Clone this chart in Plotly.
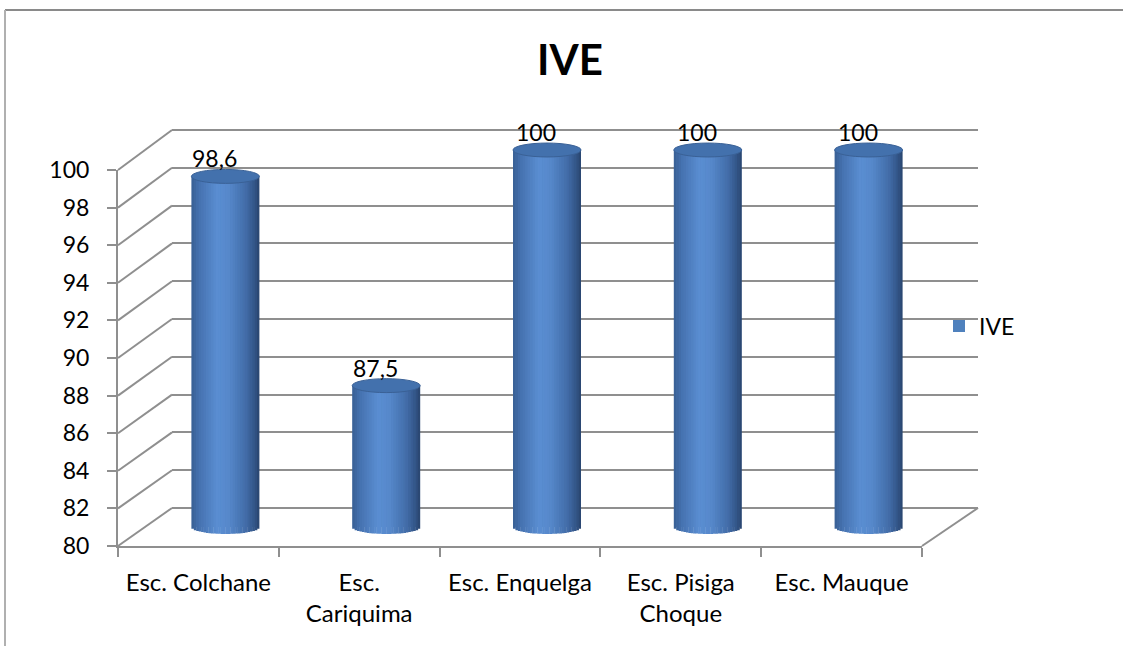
import math
import plotly.graph_objects as go

# ---------------- data ----------------
categories = ["Esc. Colchane", "Esc.<br>Cariquima", "Esc. Enquelga", "Esc. Pisiga<br>Choque", "Esc. Mauque"]
ive_values = [98.6, 87.5, 100, 100, 100]
series_name = "IVE"
y_ticks = [80, 82, 84, 86, 88, 90, 92, 94, 96, 98, 100]
chart_title = "IVE"

# ---------------- geometry (pixels of the 1123x646 page) ----------------
W, H = 1123, 646
FONT = "Lato"
GRID = "#8f8f8f"


def fx(p):
    return p / W


def fy(p):
    return 1 - p / H


Y0, Y1 = 80, 100
# back wall
XB0, XB1, YB0, YB1 = 172, 978, 508, 130
SB = (YB0 - YB1) / (Y1 - Y0)
# front axes
XF0, XF1, YF0, YF1 = 118, 922, 546, 170
SF = (YF0 - YF1) / (Y1 - Y0)
# mid depth (cylinders)
XM0, XM1, YM0 = 145, 949, 527
SM = (SF + SB) / 2
MID_LO, MID_HI = 78.5, 102


def front_y(v):
    return YF0 - (v - Y0) * SF


def back_y(v):
    return YB0 - (v - Y0) * SB


eps = 0.06

fig = go.Figure()

# subplot 1: back wall (gridlines)
fig.add_trace(go.Scatter(x=[None], y=[None], xaxis="x", yaxis="y", showlegend=False, hoverinfo="skip"))

# subplot 2: cylinders
cyl_w = 68 / ((XM1 - XM0) / len(categories))  # in category units
half_h = 0.37  # ellipse half height in value units

# legend / base bar
fig.add_trace(go.Bar(
    x=categories, y=[v - Y0 for v in ive_values], base=Y0,
    width=cyl_w * 0.98, marker=dict(color="#4F81BD", line=dict(width=0)),
    name=series_name, showlegend=True, xaxis="x2", yaxis="y2", hoverinfo="skip",
))

stops = [
    (0.0, (56, 95, 148)),
    (0.12, (70, 114, 176)),
    (0.38, (90, 142, 210)),
    (0.55, (86, 136, 203)),
    (0.8, (66, 108, 168)),
    (0.93, (50, 84, 134)),
    (1.0, (40, 68, 108)),
]


def grad(t):
    for (t0, c0), (t1, c1) in zip(stops[:-1], stops[1:]):
        if t0 <= t <= t1:
            f = (t - t0) / (t1 - t0)
            return "rgb(%d,%d,%d)" % tuple(round(a + (b - a) * f) for a, b in zip(c0, c1))
    return "rgb(%d,%d,%d)" % stops[-1][1]


N = 28
sw = cyl_w / N
for i in range(N):
    off = -cyl_w / 2 + i * sw
    tc = (off + sw / 2) / (cyl_w / 2)
    b = Y0 - half_h * math.sqrt(max(0.0, 1 - tc * tc))
    fig.add_trace(go.Bar(
        x=categories, y=[v - b for v in ive_values], base=b,
        width=sw * (1.15 if i < N - 1 else 1.0), offset=off,
        marker=dict(color=grad((i + 0.5) / N), line=dict(width=0)),
        showlegend=False, xaxis="x2", yaxis="y2", hoverinfo="skip",
    ))

# subplot 3: front axes
fig.add_trace(go.Scatter(x=categories, y=[None] * len(categories), xaxis="x3", yaxis="y3",
                         showlegend=False, hoverinfo="skip"))

shapes = []
# top ellipses of cylinders
for i, v in enumerate(ive_values):
    shapes.append(dict(type="circle", xref="x2", yref="y2",
                       x0=i - cyl_w / 2, x1=i + cyl_w / 2, y0=v - half_h, y1=v + half_h,
                       fillcolor="#4371AD", line=dict(color="#3A6196", width=1), layer="above"))

# diagonal side-wall lines
for v in y_ticks:
    shapes.append(dict(type="line", xref="paper", yref="paper",
                       x0=fx(XF0), y0=fy(front_y(v)), x1=fx(XB0), y1=fy(back_y(v)),
                       line=dict(color=GRID, width=2), layer="below"))
# floor right edge
shapes.append(dict(type="line", xref="paper", yref="paper",
                   x0=fx(XF1), y0=fy(front_y(Y0)), x1=fx(XB1), y1=fy(back_y(Y0)),
                   line=dict(color=GRID, width=2), layer="below"))
# chart border
shapes.append(dict(type="line", xref="paper", yref="paper", x0=fx(5), y0=fy(10), x1=1, y1=fy(10),
                   line=dict(color="#8a8a8a", width=2)))
shapes.append(dict(type="line", xref="paper", yref="paper", x0=fx(5), y0=fy(10), x1=fx(5), y1=0,
                   line=dict(color="#b0b0b0", width=2)))

annotations = []
for i, v in enumerate(ive_values):
    annotations.append(dict(xref="x2", yref="y", x=i, y=v, xshift=-11, yshift=-2,
                            text=f"{v:g}".replace(".", ","), showarrow=False,
                            font=dict(family=FONT, size=23, color="black"),
                            xanchor="center", yanchor="middle"))

fig.update_layout(
    width=W, height=H,
    margin=dict(l=0, r=0, t=0, b=0, pad=0, autoexpand=False),
    paper_bgcolor="white", plot_bgcolor="rgba(0,0,0,0)",
    barmode="overlay",
    title=dict(text=chart_title, x=fx(570), xanchor="center", y=fy(60), yanchor="middle",
               automargin=False,
               font=dict(family=FONT, size=42, color="black", weight="bold")),
    showlegend=True,
    legend=dict(x=fx(939), y=fy(326), xanchor="left", yanchor="middle",
                font=dict(family=FONT, size=23, color="black"), bgcolor="rgba(0,0,0,0)"),
    shapes=shapes, annotations=annotations,
    # back wall
    xaxis=dict(domain=[fx(XB0), fx(XB1)], range=[0, 1], showgrid=False, zeroline=False,
               showticklabels=False, ticks="", showline=False, anchor="y", fixedrange=True,
               automargin=False),
    yaxis=dict(domain=[fy(back_y(Y0 - eps)), fy(back_y(Y1 + eps))], range=[Y0 - eps, Y1 + eps],
               tickvals=y_ticks, showgrid=True, gridcolor=GRID, gridwidth=2, zeroline=False,
               showticklabels=False, ticks="", showline=False, anchor="x", fixedrange=True,
               automargin=False),
    # cylinders
    xaxis2=dict(domain=[fx(XM0), fx(XM1)], type="category", categoryarray=categories,
                range=[-0.5, len(categories) - 0.5], visible=False, anchor="y2", fixedrange=True,
                automargin=False),
    yaxis2=dict(domain=[fy(YM0 + (Y0 - MID_LO) * SM), fy(YM0 - (MID_HI - Y0) * SM)],
                range=[MID_LO, MID_HI], visible=False, anchor="x2", fixedrange=True,
                automargin=False),
    # front axes
    xaxis3=dict(domain=[fx(XF0), fx(XF1)], type="category", categoryarray=categories,
                range=[-0.5, len(categories) - 0.5], tickson="boundaries",
                ticks="outside", ticklen=9, tickwidth=2, tickcolor=GRID,
                showline=True, linecolor=GRID, linewidth=2, showgrid=False, zeroline=False,
                tickfont=dict(family=FONT, size=24, color="black"), ticklabelstandoff=14,
                anchor="y3", fixedrange=True, automargin=False),
    yaxis3=dict(domain=[fy(YF0), fy(YF1)], range=[Y0, Y1], tickvals=y_ticks,
                ticks="outside", ticklen=9, tickwidth=2, tickcolor=GRID,
                showline=True, linecolor=GRID, linewidth=2, showgrid=False, zeroline=False,
                tickfont=dict(family=FONT, size=23, color="black"), ticklabelstandoff=13,
                anchor="x3", fixedrange=True, automargin=False),
)

fig.write_html("out.html", config={"displayModeBar": False},
               post_script="document.body.style.margin='0';document.body.style.overflow='hidden';")
